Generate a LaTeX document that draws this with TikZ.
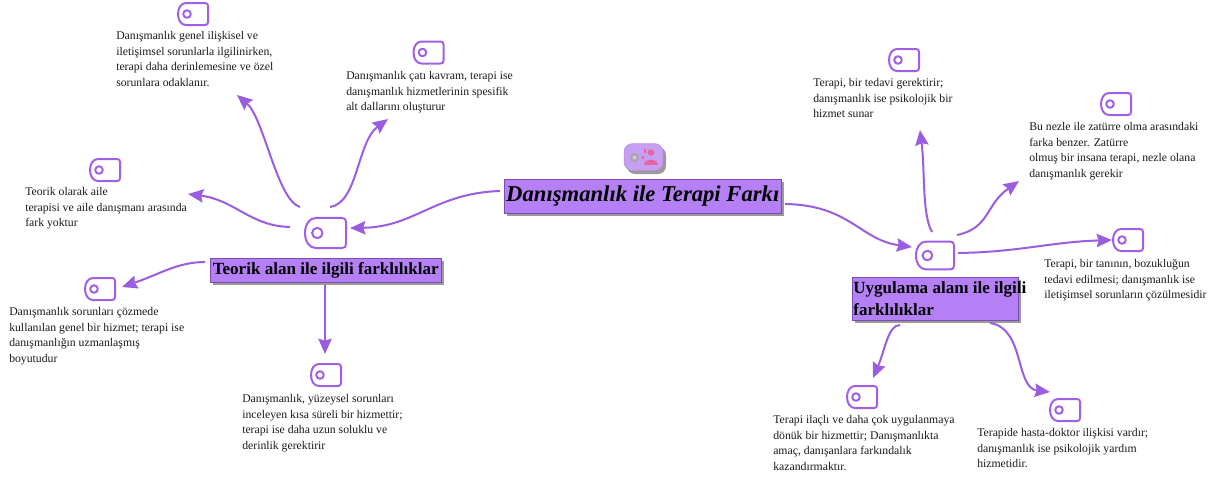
\documentclass[tikz,border=0pt]{standalone}
\usepackage{fontspec}
\setmainfont{Liberation Serif}
\usetikzlibrary{arrows.meta,calc}
\definecolor{linkc}{HTML}{9B5DE0}
\definecolor{tagc}{HTML}{A25FE6}
\definecolor{boxc}{HTML}{B580F5}
\definecolor{shadowc}{HTML}{9A9A9A}
\definecolor{pinkc}{HTML}{E8639F}
\tikzset{
  x=0.75pt,y=-0.75pt,
  conn/.style={draw=linkc,line width=1.5pt,-{Stealth[length=11.5pt,width=10pt,inset=1.5pt]}},
  note/.style={anchor=north west,inner sep=0pt,align=left,font=\fontsize{8.8}{11.8}\selectfont,text=black!90},
  topic/.style={draw=linkc!80!black,line width=0.4pt,fill=boxc,inner sep=0pt,align=left,
    text=black,anchor=north west},
  shade/.style={fill=shadowc,draw=none},
  tagbody/.style={draw=none,inner sep=0pt,minimum width=#1*0.75pt,minimum height=#1*0.545pt},
  tagline/.style={draw=tagc,line width=1.5pt,line join=round},
}
% \tagicon{name}{x,y}{width in px}
\newcommand\tagicon[3]{%
  \node[tagbody=#3] (#1) at (#2) {};
  \begin{scope}[shift={(#2)},x=#3*0.75pt/30,y=-#3*0.75pt/30,yscale=-1]
    \draw[tagline] (-7,-11) -- (12,-11) .. controls (14,-11) and (15,-10) .. (15,-8) -- (15,8)
      .. controls (15,10) and (14,11) .. (12,11) -- (-7,11)
      .. controls (-12,11) and (-15,6) .. (-15,0) .. controls (-15,-6) and (-12,-11) .. (-7,-11) -- cycle;
    \draw[tagline] (-6,0) circle[radius=3.8];
  \end{scope}}
\begin{document}
\begin{tikzpicture}
\useasboundingbox (0,0) rectangle (1216,480);
% central
\fill[shade] (507,182) rectangle (784,216);
\node[topic,minimum width=207.75pt,minimum height=25.5pt,font=\fontsize{17}{20}\selectfont\bfseries\itshape,align=center] (central) at (504,179) {\hbox to 207.75pt{\hss Danışmanlık ile Terapi Farkı\hss}};
% central icon
\path[fill=shadowc,rounded corners=6pt] (627,147) rectangle (666,174);
\node[draw=tagc!70,fill=tagc!60,line width=0.5pt,rounded corners=6pt,inner sep=0pt,minimum width=29pt,minimum height=20pt] (rooticon) at (643.5,157) {};
\draw[fill=gray!70!white,draw=none] (634.5,157.5) circle[radius=4.5];
\fill[boxc!50] (634.5,157.5) circle[radius=2];
\fill[pinkc] (651,152.5) circle[radius=3.2];
\fill[pinkc] (644,165) .. controls (644,158) and (658,158) .. (658,165) -- cycle;
\fill[pinkc] (643.5,149) rectangle (645.5,153);
\fill[pinkc] (642,156) rectangle (644,159);
% topics
\fill[shade] (213,261) rectangle (444,285);
\node[topic,minimum width=173.25pt,minimum height=18pt,font=\fontsize{12.8}{15}\selectfont\bfseries,align=center] (teorik) at (210,258) {\hbox to 173.25pt{\hss Teorik alan ile ilgili farklılıklar\hss}};
\fill[shade] (855,280) rectangle (1021,323);
\node[topic,minimum height=32.25pt,font=\fontsize{12.8}{16.5}\selectfont\bfseries] (uygulama) at (852,277) {\makebox[124.5pt][l]{\hspace*{0.8pt}Uygulama alanı ile ilgili}\\\makebox[124.5pt][l]{\hspace*{0.8pt}farklılıklar}};
% icons
\tagicon{hubL}{325.5,233}{41}
\tagicon{hubR}{935,255.5}{38}
\tagicon{t1}{193,14}{30}
\tagicon{t2}{428.5,52.5}{30}
\tagicon{t3}{105,170}{30}
\tagicon{t4}{100,289}{30}
\tagicon{t5}{326,375}{30}
\tagicon{t6}{904,60}{30}
\tagicon{t7}{1116,104}{30}
\tagicon{t8}{1128,240}{30}
\tagicon{t9}{862,397}{30}
\tagicon{t10}{1065,410}{30}
% notes
\node[note] (n1) at (116,31) {Danışmanlık genel ilişkisel ve\\iletişimsel sorunlarla ilgilinirken,\\terapi daha derinlemesine ve özel\\sorunlara odaklanır.};
\node[note] (n2) at (346,71) {Danışmanlık çatı kavram, terapi ise\\danışmanlık hizmetlerinin spesifik\\alt dallarını oluşturur};
\node[note] (n3) at (25,187) {Teorik olarak aile\\terapisi ve aile danışmanı arasında\\fark yoktur};
\node[note] (n4) at (9,307) {Danışmanlık sorunları çözmede\\kullanılan genel bir hizmet; terapi ise\\danışmanlığın uzmanlaşmış\\boyutudur};
\node[note] (n5) at (242,394) {Danışmanlık, yüzeysel sorunları\\inceleyen kısa süreli bir hizmettir;\\terapi ise daha uzun soluklu ve\\derinlik gerektirir};
\node[note] (n6) at (813,78) {Terapi, bir tedavi gerektirir;\\danışmanlık ise psikolojik bir\\hizmet sunar};
\node[note] (n7) at (1029,122) {Bu nezle ile zatürre olma arasındaki\\farka benzer. Zatürre\\olmuş bir insana terapi, nezle olana\\danışmanlık gerekir};
\node[note] (n8) at (1044,259) {Terapi, bir tanının, bozukluğun\\tedavi edilmesi; danışmanlık ise\\iletişimsel sorunların çözülmesidir};
\node[note] (n9) at (773,415) {Terapi ilaçlı ve daha çok uygulanmaya\\dönük bir hizmettir; Danışmanlıkta\\amaç, danışanlara farkındalık\\kazandırmaktır.};
\node[note] (n10) at (977,428) {Terapide hasta-doktor ilişkisi vardır;\\danışmanlık ise psikolojik yardım\\hizmetidir.};
% free connector ends
\coordinate (cL) at (500,191);
\coordinate (cR) at (785,204);
\coordinate (a1s) at (300,207); \coordinate (a1e) at (237,95);
\coordinate (a2s) at (330,207); \coordinate (a2e) at (388,119);
\coordinate (a3s) at (290,227); \coordinate (a3e) at (188,194);
\coordinate (a4s) at (205,262); \coordinate (a4e) at (122,287);
\coordinate (a5s) at (325,285); \coordinate (a5e) at (325,354);
\coordinate (b0e) at (912,247);  \coordinate (b1s) at (932,232); \coordinate (b1e) at (920,130);
\coordinate (b2s) at (957,235); \coordinate (b2e) at (1019,181);
\coordinate (b3s) at (958,253); \coordinate (b3e) at (1112,240);
\coordinate (b4s) at (900,325); \coordinate (b4e) at (873,378);
\coordinate (b5s) at (990,323); \coordinate (b5e) at (1050,392);
\coordinate (hLe) at (350,228);
% connectors
\draw[conn] (cL) .. controls (435,193) and (415,227) .. (hLe);
\draw[conn] (a1s) .. controls (277,200) and (264,118) .. (a1e);
\draw[conn] (a2s) .. controls (358,203) and (357,142) .. (a2e);
\draw[conn] (a3s) .. controls (250,226) and (235,200) .. (a3e);
\draw[conn] (a4s) .. controls (178,262) and (160,274) .. (a4e);
\draw[conn] (a5s) -- (a5e);
\draw[conn] (cR) .. controls (850,205) and (860,240) .. (b0e);
\draw[conn] (b1s) .. controls (922,215) and (925,170) .. (b1e);
\draw[conn] (b2s) .. controls (990,228) and (985,205) .. (b2e);
\draw[conn] (b3s) .. controls (1020,252) and (1050,242) .. (b3e);
\draw[conn] (b4s) .. controls (888,325) and (885,350) .. (b4e);
\draw[conn] (b5s) .. controls (1025,328) and (1015,388) .. (b5e);
\end{tikzpicture}
\end{document}
